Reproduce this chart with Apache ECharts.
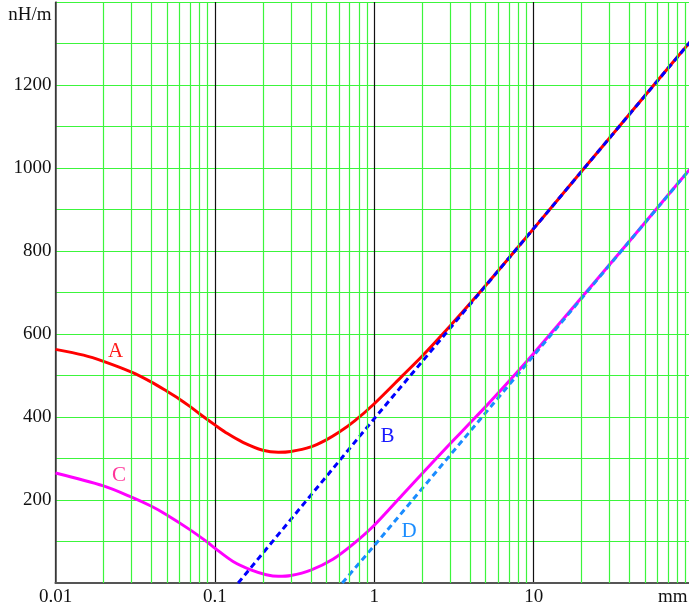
<!DOCTYPE html>
<html><head><meta charset="utf-8">
<script src="https://cdn.jsdelivr.net/npm/echarts@6/dist/echarts.min.js"></script>
<style>html,body{margin:0;padding:0;background:#fff}#c{width:689px;height:611px}</style>
</head><body><div id="c"></div>
<script>
// Curve A (red, solid)
const curveA = [[0.01,563],[0.015,549],[0.02,534],[0.03,508],[0.04,484],[0.05,462],[0.06,443],[0.07,425],[0.08,408],[0.1,381],[0.12,360],[0.15,339],[0.2,320],[0.25,315],[0.3,317],[0.4,328],[0.5,345],[0.6,363],[0.75,390],[1,432],[1.5,499],[2,547],[3,620],[4,674],[5,717],[7,783],[10,854],[20,992],[40,1130],[60,1211],[100,1312]];
// Curve B (blue, dashed)
const curveB = [[0.14,0],[1,396],[10,854],[100,1312]];
// Curve C (magenta, solid)
const curveC = [[0.01,265],[0.02,234],[0.03,207],[0.04,185],[0.05,164],[0.07,128],[0.09,98],[0.1,84],[0.13,52],[0.17,31],[0.21,20],[0.25,16],[0.3,18],[0.4,31],[0.55,57],[0.75,96],[1,139],[1.5,212],[2,264],[3,336],[4,386],[5,425],[7,486],[10,553],[20,688],[40,824],[60,905],[100,1006]];
// Curve D (light blue, dashed)
const curveD = [[0.63,0],[1,90],[10,548],[100,1006]];

const yTickLabels = [200,400,600,800,1000,1200];
const xTickLabels = [0.01,0.1,1,10];
const decades = [0.01,0.1,1,10];
const minorMultipliers = [2,3,4,5,6,7,8,9];
const curveNames = ['A','B','C','D'];
const curveLabelPos = [[0.0238,558],[1.21,353],[0.025,260],[1.654,124]];
const curveColors = ['#ff0000','#0000ff','#ff00ff','#1a8cff'];
const labelColors = ['#ff1a1a','#1a1aff','#ff3399','#1a8cff'];

const FONT = "'Liberation Serif','DejaVu Serif',serif";
const GREEN = '#3cf53c';
const DARK = '#111111';

const minorX = [];
decades.forEach(d => minorMultipliers.forEach(m => minorX.push(+(d*m).toPrecision(3))));

function letter(i){
  return {
    symbol:'rect', symbolSize:1, silent:true,
    itemStyle:{color:'rgba(0,0,0,0)'},
    label:{show:true, position:'inside', formatter:curveNames[i], color:labelColors[i], fontSize:21, fontFamily:FONT},
    data:[{coord:curveLabelPos[i]}]
  };
}

const chart = echarts.init(document.getElementById('c'), null, {renderer:'canvas'});
chart.setOption({
  animation:false,
  backgroundColor:'#fff',
  grid:{left:55.5, width:637.5, top:2, bottom:28, containLabel:false, outerBoundsMode:'none'},
  xAxis:[{
    type:'log', logBase:10, min:0.01, max:100,
    axisLine:{show:true, onZero:false, lineStyle:{color:'#444', width:1.5}},
    axisTick:{show:false},
    splitLine:{show:true, lineStyle:{color:DARK, width:1.2}},
    axisLabel:{
      fontSize:19, fontFamily:FONT, color:'#111', margin:5,
      formatter:v => { const s = +(+v).toPrecision(3); return xTickLabels.indexOf(s) >= 0 ? String(s) : ''; }
    },
    name:'mm', nameLocation:'end', nameGap:-35,
    nameTextStyle:{fontSize:19, fontFamily:FONT, color:'#111', align:'left', verticalAlign:'top', padding:[5,0,0,0]}
  },{
    type:'log', logBase:10, min:0.01, max:100, position:'top',
    axisLine:{show:true, lineStyle:{color:'#555', width:2}},
    axisTick:{show:false}, axisLabel:{show:false}, splitLine:{show:false}
  }],
  yAxis:{
    type:'value', min:0, max:1400, interval:100,
    axisLine:{show:true, lineStyle:{color:'#444', width:1.5}},
    axisTick:{show:false},
    splitLine:{show:true, lineStyle:{color:GREEN, width:1.2}},
    axisLabel:{
      fontSize:19, fontFamily:FONT, color:'#111', margin:4,
      formatter:v => yTickLabels.indexOf(v) >= 0 ? String(v) : ''
    },
    name:'nH/m', nameLocation:'end', nameGap:-13,
    nameTextStyle:{fontSize:19, fontFamily:FONT, color:'#111', align:'right', verticalAlign:'middle', padding:[0,4,0,0]}
  },
  series:[
    {type:'line', data:[], silent:true, z:1,
     markLine:{silent:true, symbol:['none','none'], label:{show:false}, emphasis:{disabled:true},
       lineStyle:{color:GREEN, width:1.2, type:'solid'},
       data:minorX.map(v => ({xAxis:v}))}},
    {name:'A', type:'line', data:curveA, showSymbol:false, smooth:0.3, z:3,
     lineStyle:{color:curveColors[0], width:3}, markPoint:letter(0)},
    {name:'C', type:'line', data:curveC, showSymbol:false, smooth:0.3, z:3,
     lineStyle:{color:curveColors[2], width:3}, markPoint:letter(2)},
    {name:'B', type:'line', data:curveB, showSymbol:false, z:4,
     lineStyle:{color:curveColors[1], width:3, type:[6,4]}, markPoint:letter(1)},
    {name:'D', type:'line', data:curveD, showSymbol:false, z:4,
     lineStyle:{color:curveColors[3], width:3, type:[6,4]}, markPoint:letter(3)}
  ]
});
</script>
</body></html>
